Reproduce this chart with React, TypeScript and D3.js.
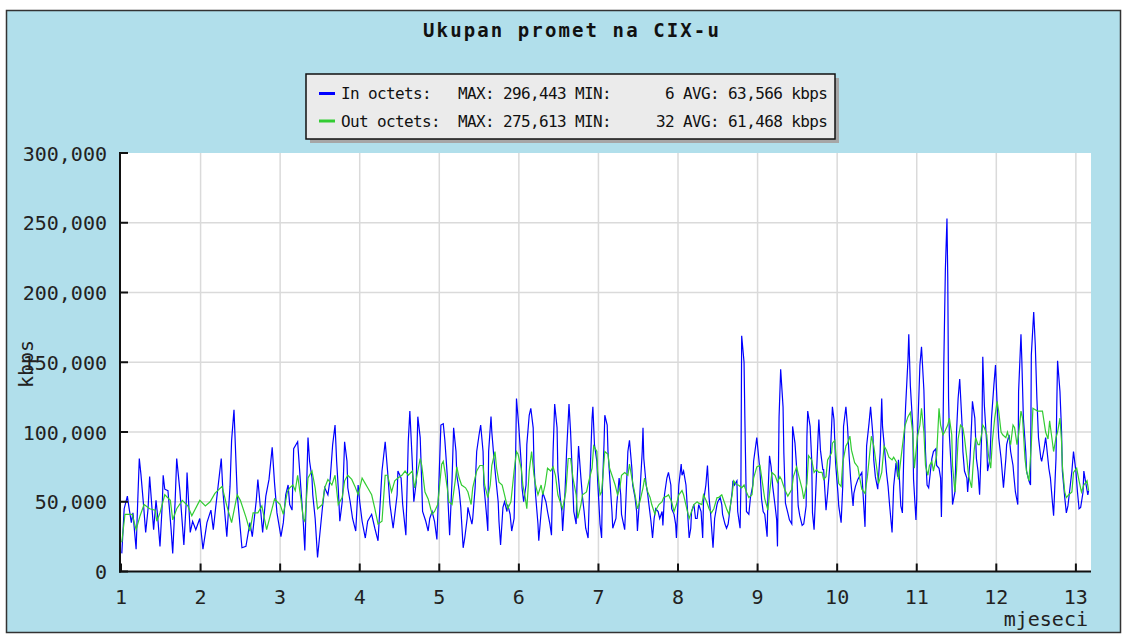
import React from 'react';
import * as d3 from 'd3';

const TITLE = 'Ukupan promet na CIX-u';
const X_LABEL = 'mjeseci';
const Y_LABEL = 'kbps';
const MONTH_TICKS = [1, 2, 3, 4, 5, 6, 7, 8, 9, 10, 11, 12, 13];
// values in thousands of kbps
const Y_TICKS = [0, 50, 100, 150, 200, 250, 300];
const LEGEND_ROWS = [
  { text: 'In octets:   MAX: 296,443 MIN:      6 AVG: 63,566 kbps', color: '#0000ff' },
  { text: 'Out octets:  MAX: 275,613 MIN:     32 AVG: 61,468 kbps', color: '#33cc33' },
];

// [month, thousand kbps]
const IN_OCTETS: [number, number][] = [
  [1.01,13],[1.04,45],[1.08,54],[1.10,46],[1.13,35],[1.15,42],[1.19,16],[1.21,50],[1.23,81],[1.25,70],[1.28,50],[1.31,28],[1.34,45],[1.36,68],[1.39,45],[1.41,30],[1.44,51],[1.46,40],[1.49,18],[1.52,50],[1.53,69],[1.55,59],[1.59,58],[1.63,30],[1.65,13],[1.68,50],[1.70,81],[1.74,58],[1.79,19],[1.82,50],[1.83,71],[1.87,28],[1.90,36],[1.94,30],[1.99,38],[2.03,16],[2.08,35],[2.13,44],[2.16,30],[2.19,46],[2.26,81],[2.28,58],[2.33,25],[2.37,61],[2.39,94],[2.42,116],[2.46,56],[2.50,30],[2.52,17],[2.57,18],[2.62,35],[2.65,25],[2.70,51],[2.72,66],[2.75,47],[2.78,28],[2.82,54],[2.86,66],[2.90,89],[2.93,63],[2.96,42],[3.01,25],
  [3.04,35],[3.07,55],[3.10,62],[3.12,48],[3.15,44],[3.17,88],[3.22,93],[3.26,60],[3.29,36],[3.31,15],[3.35,96],[3.37,79],[3.40,67],[3.41,55],[3.44,38],[3.47,10],[3.53,45],[3.56,60],[3.60,55],[3.63,67],[3.66,91],[3.69,105],[3.71,79],[3.73,60],[3.75,36],[3.78,50],[3.79,60],[3.81,93],[3.84,79],[3.85,60],[3.88,50],[3.91,38],[3.95,29],[3.98,62],[4.00,50],[4.03,36],[4.07,24],[4.10,36],[4.15,41],[4.19,31],[4.23,22],[4.28,72],[4.32,93],[4.35,72],[4.38,48],[4.42,31],[4.47,55],[4.48,72],[4.52,67],[4.54,48],[4.58,26],[4.61,93],[4.63,115],[4.66,79],[4.68,50],[4.71,64],[4.73,111],[4.76,96],[4.78,62],[4.79,43],[4.83,36],[4.86,29],[4.88,38],[4.91,43],[4.94,36],[4.97,23],[4.99,55],[5.02,105],
  [5.05,106],[5.07,94],[5.10,69],[5.11,50],[5.13,26],[5.16,65],[5.18,103],[5.21,86],[5.22,69],[5.25,58],[5.27,46],[5.30,17],[5.32,24],[5.35,38],[5.36,46],[5.38,41],[5.41,34],[5.42,38],[5.45,60],[5.47,86],[5.50,98],[5.52,105],[5.55,86],[5.56,62],[5.59,43],[5.61,29],[5.62,86],[5.65,111],[5.66,100],[5.69,79],[5.71,67],[5.74,50],[5.75,36],[5.77,19],[5.80,46],[5.82,50],[5.85,43],[5.86,48],[5.89,41],[5.91,29],[5.94,38],[5.96,86],[5.97,124],[6.00,103],[6.03,77],[6.04,60],[6.06,50],[6.09,62],[6.10,91],[6.13,112],[6.15,117],[6.18,103],[6.19,77],[6.21,55],[6.24,34],[6.25,22],[6.28,43],[6.30,57],[6.31,55],[6.34,50],[6.36,43],[6.39,34],[6.41,26],[6.43,86],[6.45,120],[6.48,103],[6.49,72],[6.52,53],[6.54,43],[6.55,29],[6.58,57],[6.60,86],[6.63,120],[6.65,100],[6.67,72],[6.69,43],[6.72,34],[6.73,62],[6.75,90],[6.78,67],[6.80,53],[6.82,43],[6.84,31],[6.87,24],[6.89,62],[6.92,110],[6.93,118],[6.95,91],[6.98,79],[6.99,65],
  [7.02,34],[7.04,24],[7.05,60],[7.07,91],[7.08,112],[7.11,105],[7.12,86],[7.14,69],[7.17,43],[7.18,31],[7.22,38],[7.23,48],[7.26,67],[7.28,55],[7.29,41],[7.33,30],[7.36,72],[7.37,86],[7.39,94],[7.42,74],[7.43,62],[7.46,53],[7.48,43],[7.49,29],[7.52,55],[7.55,86],[7.56,103],[7.57,81],[7.60,62],[7.62,55],[7.63,50],[7.66,36],[7.68,24],[7.70,38],[7.72,45],[7.75,43],[7.77,38],[7.80,43],[7.81,33],[7.83,55],[7.86,67],[7.88,71],[7.91,62],[7.92,45],[7.95,41],[7.97,34],[7.98,24],[8.01,62],[8.04,77],[8.05,69],[8.07,72],[8.10,62],[8.12,43],[8.14,24],[8.16,31],[8.17,43],[8.20,48],[8.22,38],[8.24,38],[8.26,48],[8.29,43],[8.31,24],[8.32,50],[8.35,62],[8.37,76],[8.39,53],[8.41,41],[8.44,17],[8.46,38],[8.49,48],[8.50,50],[8.53,53],[8.55,48],[8.56,41],[8.59,34],[8.61,31],[8.63,34],[8.65,43],[8.68,57],[8.69,65],[8.71,62],[8.74,65],[8.75,43],[8.78,31],[8.79,60],[8.80,169],[8.83,150],[8.84,110],[8.86,43],[8.89,41],[8.91,53],[8.94,62],[8.95,79],[8.99,96],[9.00,90],[9.03,72],[9.05,52],[9.07,43],
  [9.09,41],[9.12,25],[9.13,55],[9.15,83],[9.17,75],[9.19,61],[9.22,47],[9.24,37],[9.25,18],[9.27,111],[9.29,145],[9.32,118],[9.33,85],[9.35,49],[9.38,42],[9.40,37],[9.43,34],[9.44,104],[9.47,92],[9.49,75],[9.51,47],[9.53,40],[9.56,33],[9.58,34],[9.61,47],[9.62,97],[9.63,115],[9.66,104],[9.68,80],[9.69,42],[9.71,30],[9.73,56],[9.76,97],[9.77,109],[9.79,87],[9.82,73],[9.83,73],[9.86,44],[9.88,56],[9.91,78],[9.93,104],[9.94,118],[9.96,109],[9.98,78],[10.01,56],[10.02,47],[10.05,35],[10.07,61],[10.08,104],[10.11,118],[10.13,104],[10.15,83],[10.17,66],[10.20,47],[10.21,56],[10.23,61],[10.26,66],[10.28,68],[10.31,71],[10.32,61],[10.35,32],[10.37,90],[10.40,106],[10.42,118],[10.45,97],[10.46,80],[10.48,68],[10.51,59],[10.54,85],[10.56,124],[10.57,104],[10.60,85],[10.62,71],[10.64,61],[10.66,47],[10.69,28],[10.71,61],[10.74,78],[10.76,68],[10.77,80],[10.80,47],[10.82,42],[10.84,90],[10.86,118],[10.89,152],[10.90,170],[10.92,133],[10.95,104],[10.96,66],[10.99,37],
  [11.00,52],[11.01,98],[11.04,148],[11.06,161],[11.09,130],[11.11,86],[11.13,62],[11.15,60],[11.18,76],[11.19,81],[11.21,86],[11.24,88],[11.25,76],[11.28,74],[11.30,67],[11.31,39],[11.33,100],[11.34,148],[11.36,217],[11.38,253],[11.39,210],[11.40,124],[11.41,98],[11.44,67],[11.45,48],[11.48,57],[11.50,100],[11.52,124],[11.54,138],[11.57,105],[11.58,86],[11.60,72],[11.63,67],[11.64,57],[11.67,81],[11.69,107],[11.70,122],[11.73,110],[11.75,81],[11.77,72],[11.79,55],[11.82,105],[11.83,154],[11.85,119],[11.88,91],[11.89,72],[11.92,81],[11.94,110],[11.97,134],[11.99,148],[12.01,120],[12.03,96],[12.06,81],[12.07,74],[12.09,60],[12.12,81],[12.13,91],[12.16,98],[12.18,86],[12.21,76],[12.22,69],[12.24,57],[12.27,48],[12.28,129],[12.31,170],[12.32,153],[12.34,110],[12.37,86],[12.38,72],[12.41,65],[12.43,62],[12.44,155],[12.47,186],[12.49,162],[12.51,124],[12.53,96],[12.56,81],[12.57,79],[12.60,88],[12.62,96],[12.63,91],[12.66,74],[12.68,67],[12.70,53],[12.72,40],[12.75,81],[12.76,120],[12.77,151],[12.80,129],[12.82,100],[12.83,72],[12.86,53],[12.88,42],[12.90,47],[12.92,57],[12.95,72],[12.97,86],[13.00,72],[13.02,57],[13.04,45],[13.06,46],[13.09,57],[13.10,72],[13.12,65],[13.15,55],[13.16,58],
];

const OUT_OCTETS: [number, number][] = [
  [1.01,21],[1.05,41],[1.14,41],[1.19,30],[1.24,40],[1.29,48],[1.36,45],[1.43,44],[1.45,36],[1.49,42],[1.55,55],[1.62,51],[1.65,37],[1.70,45],[1.77,51],[1.84,47],[1.89,40],[1.99,51],[2.06,47],[2.12,50],[2.18,56],[2.27,61],[2.33,47],[2.39,35],[2.46,55],[2.50,51],[2.57,39],[2.62,29],[2.66,42],[2.72,42],[2.77,47],[2.83,30],[2.93,52],
  [3.00,48],[3.04,41],[3.09,57],[3.12,60],[3.16,62],[3.19,58],[3.22,69],[3.27,48],[3.29,38],[3.31,36],[3.35,67],[3.40,72],[3.44,60],[3.47,45],[3.53,48],[3.56,60],[3.60,66],[3.65,62],[3.69,69],[3.73,48],[3.78,53],[3.81,65],[3.85,69],[3.90,66],[3.94,61],[3.98,55],[4.03,67],[4.07,63],[4.10,60],[4.15,55],[4.19,45],[4.23,34],[4.28,36],[4.32,69],[4.35,69],[4.40,57],[4.44,65],[4.48,67],[4.53,69],[4.57,72],[4.61,69],[4.66,72],[4.69,60],[4.76,81],[4.78,76],[4.82,57],[4.86,52],[4.91,41],[4.94,43],
  [4.98,48],[5.03,77],[5.05,79],[5.07,72],[5.10,60],[5.12,50],[5.16,48],[5.20,65],[5.22,75],[5.25,67],[5.28,62],[5.33,60],[5.36,57],[5.40,48],[5.42,60],[5.47,72],[5.51,76],[5.55,76],[5.57,62],[5.61,53],[5.64,62],[5.66,76],[5.70,86],[5.72,74],[5.75,64],[5.79,62],[5.82,55],[5.86,45],[5.90,50],[5.94,72],[5.97,86],[5.99,84],[6.03,74],[6.05,62],[6.08,53],[6.10,45],[6.13,72],[6.16,86],[6.19,69],[6.21,62],[6.24,55],[6.28,62],[6.30,55],[6.33,62],[6.36,74],[6.40,72],[6.43,75],[6.46,69],[6.49,55],[6.53,48],[6.55,45],[6.59,57],[6.62,81],[6.65,81],[6.68,67],[6.72,55],[6.74,38],[6.78,48],[6.80,55],[6.85,57],[6.88,65],[6.92,74],[6.94,90],[6.98,86],
  [6.99,72],[7.02,55],[7.04,57],[7.08,86],[7.12,84],[7.14,74],[7.17,69],[7.21,62],[7.24,55],[7.27,60],[7.29,69],[7.33,71],[7.37,69],[7.39,77],[7.42,67],[7.46,55],[7.49,45],[7.52,50],[7.56,60],[7.58,67],[7.62,57],[7.65,53],[7.67,48],[7.71,41],[7.73,45],[7.76,48],[7.80,50],[7.82,53],[7.86,54],[7.88,55],[7.92,50],[7.95,43],[7.98,48],[8.01,55],[8.05,58],[8.07,55],[8.11,45],[8.14,38],[8.17,43],[8.20,48],[8.24,50],[8.26,49],[8.30,48],[8.32,55],[8.36,50],[8.39,45],[8.42,42],[8.45,45],[8.49,53],[8.51,53],[8.55,55],[8.58,50],[8.61,45],[8.64,41],[8.68,55],[8.70,65],[8.74,62],[8.76,62],[8.80,60],[8.83,62],[8.86,57],[8.89,53],[8.93,55],[8.95,67],[8.99,75],[9.03,76],
  [9.05,68],[9.09,52],[9.13,44],[9.15,56],[9.18,71],[9.22,69],[9.25,64],[9.28,68],[9.30,66],[9.34,59],[9.38,54],[9.43,59],[9.45,68],[9.49,75],[9.52,68],[9.56,59],[9.58,52],[9.62,63],[9.64,83],[9.68,80],[9.71,71],[9.74,73],[9.77,71],[9.81,71],[9.83,66],[9.86,68],[9.88,80],[9.93,85],[9.94,92],[9.97,94],[9.99,80],[10.02,63],[10.05,61],[10.07,78],[10.11,90],[10.13,92],[10.16,97],[10.18,87],[10.22,78],[10.26,75],[10.28,68],[10.31,59],[10.35,56],[10.38,68],[10.41,85],[10.43,97],[10.46,90],[10.50,73],[10.52,63],[10.56,71],[10.59,90],[10.62,87],[10.65,82],[10.69,80],[10.71,82],[10.75,78],[10.77,66],[10.81,85],[10.82,90],[10.85,104],[10.89,111],[10.92,114],[10.95,99],[10.97,74],[11.01,97],[11.04,105],[11.06,117],
  [11.09,100],[11.11,76],[11.14,69],[11.16,76],[11.19,79],[11.21,72],[11.25,83],[11.28,117],[11.30,105],[11.33,98],[11.35,100],[11.39,105],[11.41,110],[11.44,98],[11.45,76],[11.48,57],[11.50,72],[11.52,95],[11.55,105],[11.58,103],[11.60,96],[11.63,81],[11.65,69],[11.69,60],[11.72,86],[11.74,96],[11.77,91],[11.79,91],[11.82,100],[11.83,105],[11.85,103],[11.88,98],[11.90,84],[11.93,74],[11.95,93],[11.98,110],[12.01,122],[12.03,115],[12.06,100],[12.08,98],[12.12,96],[12.14,100],[12.18,91],[12.21,105],[12.23,103],[12.26,91],[12.28,98],[12.31,115],[12.33,110],[12.36,81],[12.38,72],[12.41,65],[12.44,91],[12.46,117],[12.49,116],[12.52,115],[12.56,115],[12.58,115],[12.62,100],[12.65,95],[12.67,108],[12.70,95],[12.72,86],[12.75,96],[12.77,100],[12.80,110],[12.82,93],[12.83,76],[12.86,57],[12.88,53],[12.91,55],[12.95,57],[12.97,71],[13.01,74],[13.04,65],[13.07,57],[13.10,62],[13.14,65],[13.16,58],
];

const MONO = "'DejaVu Sans Mono', monospace";

export default function App() {
  const W = 1128;
  const H = 635;
  const plot = { left: 121, right: 1091, top: 153, bottom: 571.5 };

  const x = d3.scaleLinear().domain([1, 13.19]).range([plot.left, plot.right]);
  const y = d3.scaleLinear().domain([0, 300]).range([plot.bottom, plot.top]);
  const fmt = (v: number) => d3.format(',')(v * 1000);

  const line = d3
    .line<[number, number]>()
    .x((d) => x(d[0]))
    .y((d) => y(d[1]));

  const legend = { x: 306, y: 74, w: 529, h: 65 };

  return (
    <svg
      width={W}
      height={H}
      viewBox={`0 0 ${W} ${H}`}
      style={{ position: 'absolute', left: 0, top: 0, display: 'block' }}
    >
      <rect x={0} y={0} width={W} height={H} fill="#ffffff" />
      <rect x={6.5} y={10.5} width={1114} height={622} fill="#b1dfeb" stroke="#333" strokeWidth={1.5} />

      <text
        x={572}
        y={37}
        textAnchor="middle"
        fontFamily={MONO}
        fontSize={19}
        fontWeight="bold"
        fill="#111"
        style={{ letterSpacing: '2.1px' }}
      >
        {TITLE}
      </text>

      {/* legend */}
      <rect x={legend.x + 4} y={legend.y + 4} width={legend.w} height={legend.h} fill="#a6a6a6" />
      <rect x={legend.x} y={legend.y} width={legend.w} height={legend.h} fill="#ebebeb" stroke="#111" strokeWidth={1.5} />
      {LEGEND_ROWS.map((r, i) => (
        <g key={i}>
          <line x1={319} x2={335} y1={93.5 + i * 27.5} y2={93.5 + i * 27.5} stroke={r.color} strokeWidth={3} />
          <text
            x={341}
            y={99 + i * 27.5}
            fontFamily={MONO}
            fontSize={16}
            fill="#111"
            style={{ whiteSpace: 'pre', letterSpacing: '-0.63px' }}
          >
            {r.text}
          </text>
        </g>
      ))}

      {/* plot */}
      <rect x={plot.left} y={plot.top} width={plot.right - plot.left} height={plot.bottom - plot.top} fill="#ffffff" />
      {Y_TICKS.filter((t) => t > 0 && t < 300).map((t) => (
        <line key={'gy' + t} x1={plot.left} x2={plot.right} y1={y(t)} y2={y(t)} stroke="#dadada" strokeWidth={1.5} />
      ))}
      {MONTH_TICKS.filter((m) => m > 1).map((m) => (
        <line key={'gx' + m} x1={x(m)} x2={x(m)} y1={plot.top} y2={plot.bottom} stroke="#dadada" strokeWidth={1.5} />
      ))}

      <clipPath id="plotclip">
        <rect x={plot.left} y={plot.top} width={plot.right - plot.left} height={plot.bottom - plot.top} />
      </clipPath>
      <g clipPath="url(#plotclip)" fill="none" strokeLinejoin="miter">
        <path d={line(IN_OCTETS) || ''} stroke="#0000ff" strokeWidth={1.2} />
        <path d={line(OUT_OCTETS) || ''} stroke="#33cc33" strokeWidth={1.2} />
      </g>

      {/* axes */}
      <line x1={120} x2={120} y1={plot.top - 1} y2={plot.bottom + 1} stroke="#111" strokeWidth={2} />
      <line x1={119} x2={plot.right} y1={plot.bottom} y2={plot.bottom} stroke="#111" strokeWidth={2} />
      {Y_TICKS.map((t) => (
        <g key={'ty' + t}>
          <line x1={119} x2={128} y1={y(t)} y2={y(t)} stroke="#111" strokeWidth={2} />
          <text x={107} y={y(t) + 7.5} textAnchor="end" fontFamily={MONO} fontSize={20} fill="#222">
            {fmt(t)}
          </text>
        </g>
      ))}
      {MONTH_TICKS.map((m) => (
        <g key={'tx' + m}>
          <line x1={x(m)} x2={x(m)} y1={plot.bottom} y2={plot.bottom - 8} stroke="#111" strokeWidth={2} />
          <text x={x(m)} y={604} textAnchor="middle" fontFamily={MONO} fontSize={20} fill="#222">
            {m}
          </text>
        </g>
      ))}
      <text x={1088} y={626} textAnchor="end" fontFamily={MONO} fontSize={20} fill="#222">
        {X_LABEL}
      </text>
      <text
        transform="translate(33,364) rotate(-90)"
        textAnchor="middle"
        fontFamily={MONO}
        fontSize={20}
        fill="#222"
      >
        {Y_LABEL}
      </text>
    </svg>
  );
}
